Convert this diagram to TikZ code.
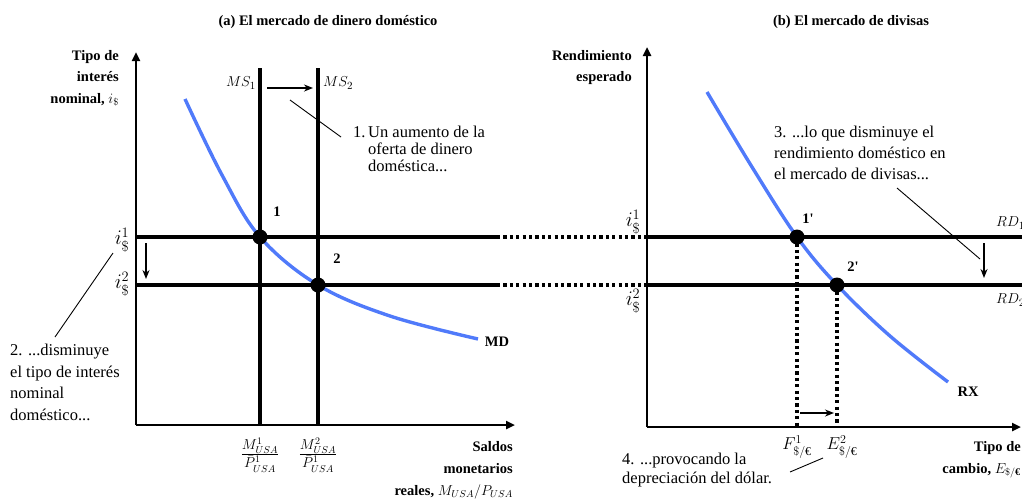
\documentclass[tikz,border=0pt]{standalone}
\usepackage{amsmath}
\usepackage{fontspec}
\setmainfont{Liberation Serif}
\usetikzlibrary{arrows.meta}
\definecolor{curveblue}{RGB}{80,122,250}
\newcommand{\eur}{\text{€}}
\tikzset{
  axisline/.style={line width=2.6pt, -{Triangle[length=9pt,width=8pt]}},
  thickline/.style={line width=3.2pt},
  dotline/.style={line width=3.2pt, dash pattern=on 3.2pt off 3.2pt},
  bluecurve/.style={curveblue, line width=3.4pt},
  shiftarrow/.style={line width=1.8pt, -{Stealth[length=9pt,width=7pt]}},
  noteline/.style={line width=0.9pt},
  eqdot/.style={circle, fill=black, inner sep=0pt, minimum size=15pt},
  boldlab/.style={font=\fontsize{14.5}{21.5}\selectfont\bfseries, inner sep=0pt},
  notetext/.style={font=\fontsize{16.5}{21.5}\selectfont, inner sep=0pt, align=left, anchor=north west},
  mathlab/.style={font=\fontsize{15}{18}\selectfont, inner sep=0pt},
  bigmath/.style={font=\fontsize{20}{22}\selectfont, inner sep=0pt},
}
\begin{document}
\begin{tikzpicture}[x=1pt,y=-1pt]
\useasboundingbox (0,0) rectangle (1022,501);

% ---------- titles
\node[boldlab] (titleA) at (328,22) {(a) El mercado de dinero doméstico};
\node[boldlab] (titleB) at (851,22) {(b) El mercado de divisas};

% ---------- coordinates
\coordinate (Oa) at (136,425);
\coordinate (Ya) at (136,52);
\coordinate (Xa) at (515,425);
\coordinate (Ob) at (647,427);
\coordinate (Yb) at (647,47);
\coordinate (Xb) at (1021,427);

\coordinate (ms1t) at (260,68);
\coordinate (ms1b) at (260,425);
\coordinate (ms2t) at (318,68);
\coordinate (ms2b) at (318,425);

\coordinate (i1L) at (136,237);
\coordinate (i1M) at (497,237);
\coordinate (i1R) at (647,237);
\coordinate (i1E) at (1030,237);
\coordinate (i2L) at (136,285);
\coordinate (i2M) at (497,285);
\coordinate (i2R) at (647,285);
\coordinate (i2E) at (1030,285);

% ---------- axes
\draw[axisline] (Oa) -- (Ya);
\draw[axisline] (Oa) -- (Xa);
\draw[axisline] (Ob) -- (Yb);
\draw[axisline] (Ob) -- (Xb);

% ---------- money supply lines
\draw[thickline] (ms1t) -- (ms1b);
\draw[thickline] (ms2t) -- (ms2b);

% ---------- interest rate lines
\draw[thickline] (i1L) -- (i1M);
\draw[dotline] (i1M) -- (i1R);
\draw[thickline] (i1R) -- (i1E);
\draw[thickline] (i2L) -- (i2M);
\draw[dotline] (i2M) -- (i2R);
\draw[thickline] (i2R) -- (i2E);

% ---------- curves
\draw[bluecurve] plot[smooth, tension=0.6] coordinates
  {(185,99) (222,175) (260,237) (318,285) (390,316) (478,339)};
\draw[bluecurve] plot[smooth, tension=0.6] coordinates
  {(707,92) (752,167) (797,237) (837,285) (890,336) (948,382)};

% ---------- equilibrium points
\node[eqdot] (p1) at (260,237) {};
\node[eqdot] (p2) at (318,285) {};
\node[eqdot] (p1r) at (797,237) {};
\node[eqdot] (p2r) at (837,285) {};

\draw[dotline] (p1r.center) -- (p1r.center |- Ob);
\draw[dotline] (p2r.center) -- (p2r.center |- Ob);

\node[boldlab] (l1) at (277,212) {1};
\node[boldlab] (l2) at (337,259) {2};
\node[boldlab] (l1r) at (808,219) {1\textquotesingle};
\node[boldlab] (l2r) at (853,267) {2\textquotesingle};
\node[boldlab] (mdlab) at (497,342) {MD};
\node[boldlab] (rxlab) at (968,392) {RX};

% ---------- axis labels
\node[boldlab, align=right, anchor=north east] (ylabA) at (119,50)
  {Tipo de\\interés\\nominal, $i_{\$}$};
\node[boldlab, align=right, anchor=north east] (ylabB) at (632,50)
  {Rendimiento\\esperado};
\node[boldlab, align=right, anchor=north east, font=\fontsize{14.5}{22}\selectfont\bfseries] (xlabA) at (513,441)
  {Saldos\\monetarios\\reales, $M_{USA}/P_{USA}$};
\node[boldlab, align=right, anchor=north east, font=\fontsize{14.5}{22}\selectfont\bfseries] (xlabB) at (1021,441)
  {Tipo de\\cambio, $E_{\$/\eur}$};

% ---------- math labels
\node[mathlab, anchor=east] (ms1lab) at (256,83) {$MS_1$};
\node[mathlab, anchor=west] (ms2lab) at (323,83) {$MS_2$};
\node[bigmath] (i1labA) at (122,240) {$i_{\$}^{1}$};
\node[bigmath] (i2labA) at (122,284) {$i_{\$}^{2}$};
\node[bigmath] (i1labB) at (633,222) {$i_{\$}^{1}$};
\node[bigmath] (i2labB) at (633,301) {$i_{\$}^{2}$};
\node[mathlab, anchor=west] (rd1lab) at (996,223) {$RD_1$};
\node[mathlab, anchor=west] (rd2lab) at (996,300) {$RD_2$};
\node[bigmath] (frac1) at (260,455) {$\frac{M^1_{USA}}{\bar{P}^1_{USA}}$};
\node[bigmath] (frac2) at (318,455) {$\frac{M^2_{USA}}{\bar{P}^1_{USA}}$};
\node[mathlab, font=\fontsize{17}{19}\selectfont] (e1lab) at (797,447) {$F^1_{\$/\eur}$};
\node[mathlab, font=\fontsize{17}{19}\selectfont] (e2lab) at (842,447) {$E^2_{\$/\eur}$};

% ---------- shift arrows
\coordinate (msa1) at (267,88);
\coordinate (msa2) at (313,88);
\draw[shiftarrow] (msa1) -- (msa2);
\coordinate (ida1) at (146,243);
\coordinate (ida2) at (146,279);
\draw[shiftarrow] (ida1) -- (ida2);
\coordinate (rda1) at (984,243);
\coordinate (rda2) at (984,278);
\draw[shiftarrow] (rda1) -- (rda2);
\coordinate (ea1) at (800,413);
\coordinate (ea2) at (834,413);
\draw[shiftarrow] (ea1) -- (ea2);

% ---------- annotations
\node[notetext, font=\fontsize{16.5}{17}\selectfont] (note1) at (368,126)
  {\llap{1.\,}Un aumento de la\\oferta de dinero\\doméstica...};
\coordinate (n1a) at (290,100);
\coordinate (n1b) at (341,137);
\draw[noteline] (n1a) -- (n1b);

\node[notetext] (note2) at (10,344)
  {2. ...disminuye\\el tipo de interés\\nominal\\doméstico...};
\coordinate (n2a) at (113,253);
\coordinate (n2b) at (55,337);
\draw[noteline] (n2a) -- (n2b);

\node[notetext, font=\fontsize{16.5}{21}\selectfont] (note3) at (774,126)
  {3. ...lo que disminuye el\\rendimiento doméstico en\\el mercado de divisas...};
\coordinate (n3a) at (897,188);
\coordinate (n3b) at (980,259);
\draw[noteline] (n3a) -- (n3b);

\node[notetext, font=\fontsize{16.5}{19}\selectfont] (note4) at (622,453)
  {4. ...provocando la\\depreciación del dólar.};
\coordinate (n4a) at (790,472);
\coordinate (n4b) at (823,458);
\draw[noteline] (n4a) -- (n4b);
\end{tikzpicture}
\end{document}
